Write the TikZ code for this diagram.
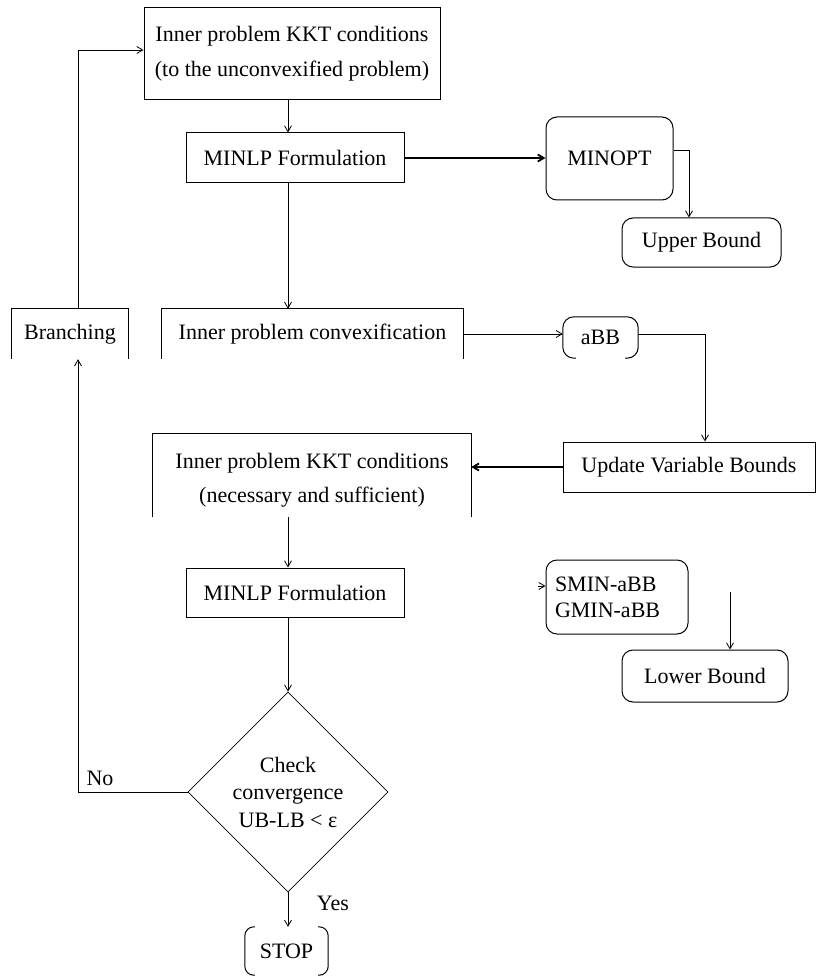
\documentclass[tikz,border=0pt]{standalone}
\usepackage{fontspec}
\setmainfont{Liberation Serif}
\usetikzlibrary{arrows.meta,shapes.geometric,calc}
\begin{document}
\begin{tikzpicture}[x=1pt,y=-1pt,
  txt/.style={font=\fontsize{22}{35}\selectfont, align=center, inner sep=0pt},
  box/.style={txt, draw, rectangle, line width=1pt},
  obox/.style={txt, rectangle},
  rbox/.style={txt, draw, rectangle, rounded corners=11pt, line width=1pt},
  boxline/.style={line width=1pt},
  conn/.style={line width=0.8pt, -{Straight Barb[length=6pt,width=7pt]}},
  thickconn/.style={line width=1.8pt, -{Straight Barb[length=6pt,width=7pt]}}
]
\useasboundingbox (0,0) rectangle (822,976);
\coordinate (mainx) at (288,0);
\coordinate (leftx) at (78,0);

\node[box, minimum width=296pt, minimum height=92pt] (kkt1) at (292,54) {Inner problem KKT conditions\\(to the unconvexified problem)};
\node[box, minimum width=218pt, minimum height=50pt] (minlp1) at (295,158) {MINLP Formulation};
\node[rbox, minimum width=127pt, minimum height=83pt] (minopt) at (609.5,158.5) {MINOPT};
\node[rbox, minimum width=159pt, minimum height=49pt] (ub) at (701.5,242.5) {Upper Bound};

\node[obox, minimum width=116pt, minimum height=50pt] (branch) at (70,334) {Branching};
\draw[boxline] (branch.south west) |- (branch.north east) -- (branch.south east);
\node[obox, minimum width=301pt, minimum height=50pt] (conv) at (312.5,334) {Inner problem convexification};
\draw[boxline] (conv.south west) |- (conv.north east) -- (conv.south east);
\node[obox, minimum width=75pt, minimum height=41pt] (abb) at (600.5,337.5) {aBB};
\draw[boxline, rounded corners=11pt] ($(abb.south west)+(13,0)$) -| (abb.north west) -| (abb.south east) -- ($(abb.south east)+(-13,0)$);

\node[box, minimum width=252pt, minimum height=50pt] (update) at (689,467) {Update Variable Bounds};
\node[obox, minimum width=318pt, minimum height=83pt] (kkt2) at (312,475.5) {};
\node[txt, font=\fontsize{22}{34}\selectfont] (kkt2t) at (312,480) {Inner problem KKT conditions\\(necessary and sufficient)};
\draw[boxline] (kkt2.south west) |- (kkt2.north east) -- (kkt2.south east);
\node[box, minimum width=218pt, minimum height=49pt] (minlp2) at (295,592.5) {MINLP Formulation};

\node[rbox, minimum width=142pt, minimum height=74pt, text width=124pt, align=left, font=\fontsize{22}{26}\selectfont] (smin) at (617,597) {SMIN-aBB\\GMIN-aBB};
\node[rbox, minimum width=166pt, minimum height=52pt] (lb) at (705,676) {Lower Bound};

\node[diamond, draw, line width=0.8pt, aspect=1, minimum width=200pt, minimum height=200pt, inner sep=0pt, align=center, font=\fontsize{22}{27.5}\selectfont] (check) at (288,792) {Check\\convergence\\UB-LB < ε};

\node[txt, minimum width=83pt, minimum height=48pt] (stop) at (286.5,951) {STOP};
\draw[boxline, rounded corners=9pt] ($(stop.north west)+(10,0)$) -| (stop.south west) -- ++(10,0);
\draw[boxline, rounded corners=9pt] ($(stop.north east)+(-10,0)$) -| (stop.south east) -- ++(-10,0);

\node[txt] (no) at (100,778) {No};
\node[txt] (yes) at (333,903) {Yes};

\draw[conn] (kkt1.south -| mainx) -- (minlp1.north -| mainx);
\draw[thickconn] (minlp1.east) -- (minlp1.east -| minopt.west);
\draw[conn] ([yshift=8pt]minopt.east) -| ([xshift=-12.5pt]ub.north);
\draw[conn] (minlp1.south -| mainx) -- (conv.north -| mainx);
\draw[conn] (conv.east) -- (conv.east -| abb.west);
\draw[conn] (conv.east -| abb.east) -| ([xshift=16pt]update.north);
\draw[thickconn] (update.west) -- (update.west -| kkt2.east);
\draw[conn] (kkt2.south -| mainx) -- (minlp2.north -| mainx);
\draw[conn] (minlp2.south -| mainx) -- (check.north);
\draw[conn] (check.south) -- (check.south |- stop.north);
\draw[conn] (check.west) -| (branch.south -| leftx);
\draw[conn] (branch.north -| leftx) |- ([yshift=4pt]kkt1.west);
\coordinate (sminin) at (538,586);
\draw[conn] (sminin) -- (sminin -| smin.west);
\coordinate (lbin) at (730,592);
\draw[conn] (lbin) -- (lbin |- lb.north);
\end{tikzpicture}
\end{document}
